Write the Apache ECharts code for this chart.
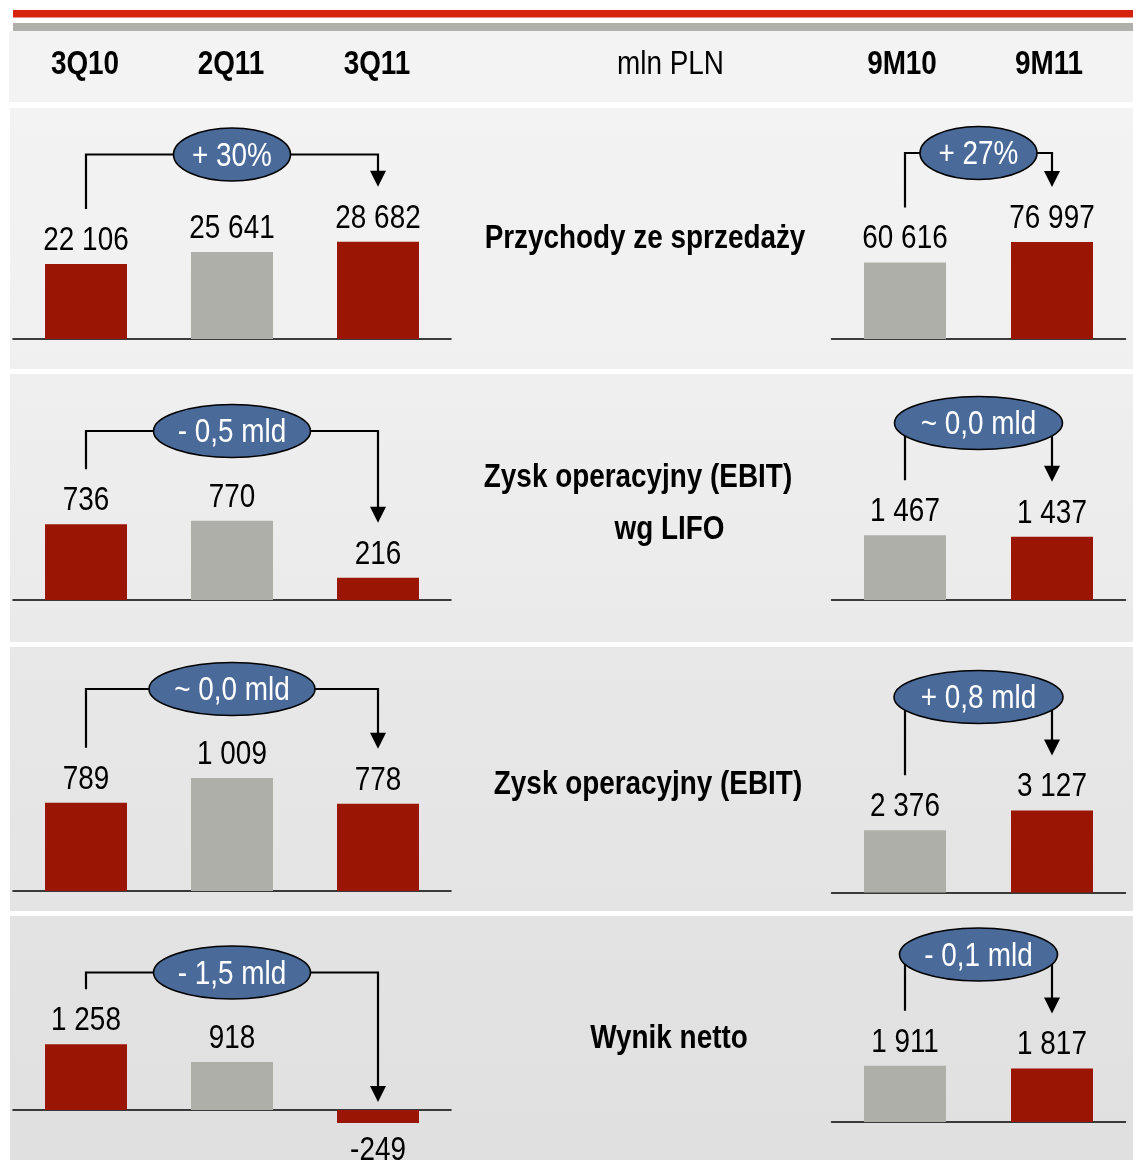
<!DOCTYPE html>
<html><head><meta charset="utf-8">
<script src="https://cdn.jsdelivr.net/npm/echarts@6/dist/echarts.min.js"></script>
<style>html,body{margin:0;padding:0;background:#fff}#c{width:1133px;height:1160px}</style>
</head><body><div id="c"></div>
<script>
// ---------- data ----------
const quarterCats = ['3Q10', '2Q11', '3Q11'];
const ytdCats = ['9M10', '9M11'];
const unitLabel = 'mln PLN';
const metricNames = [['Przychody ze sprzedaży'], ['Zysk operacyjny (EBIT)', 'wg LIFO'], ['Zysk operacyjny (EBIT)'], ['Wynik netto']];
const revenueQ = [22106, 25641, 28682];
const revenue9M = [60616, 76997];
const ebitLifoQ = [736, 770, 216];
const ebitLifo9M = [1467, 1437];
const ebitQ = [789, 1009, 778];
const ebit9M = [2376, 3127];
const netQ = [1258, 918, -249];
const net9M = [1911, 1817];
const changeQ = ['+ 30%', '- 0,5 mld', '~ 0,0 mld', '- 1,5 mld'];
const change9M = ['+ 27%', '~ 0,0 mld', '+ 0,8 mld', '- 0,1 mld'];

// ---------- style / layout ----------
const FONT = "'Liberation Sans', Arial, sans-serif";
const NARROW = 0.82; // horizontal squeeze → Arial Narrow look
const TY = 2;        // text vertical nudge
const RED = '#9b1503', GREY = '#afafaa', BLUE = '#4a6a9a';
const colorsQ = [RED, GREY, RED];
const colors9M = [GREY, RED];
const rowsQ = [revenueQ, ebitLifoQ, ebitQ, netQ];
const rows9M = [revenue9M, ebitLifo9M, ebit9M, net9M];
const baseQ = [339, 600, 891, 1110];
const base9M = [339, 600, 892.5, 1122];
const pxPerUnitQ = [0.00339, 0.1028, 0.112, 0.0522];
const pxPerUnit9M = [0.00126, 0.0441, 0.0262, 0.0295];
const ellYQ = [154.5, 431, 689, 972.5];
const ellY9M = [153, 423, 697, 954.5];
const ellRxQ = [58.5, 78.5, 83, 78.5];
const ellRx9M = [58.5, 84, 84.5, 79];
const panels = [[108, 369, '#f3f3f3', '#f0f0f0'], [374, 642, '#efefef', '#eaeaea'], [647, 911, '#e8e8e8', '#e4e4e4'], [916, 1160, '#e3e3e3', '#e0e0e0']];
const centerText = [[[645, 237]], [[638, 476], [669.5, 528]], [[648, 783]], [[669, 1037]]];
const UP = 150, DOWN = 30;

function fmt(v) {
  const s = String(Math.abs(v)).replace(/\B(?=(\d{3})+(?!\d))/g, ' ');
  return (v < 0 ? '-' : '') + s;
}

const grids = [], xAxes = [], yAxes = [], series = [];
function addChart(cats, vals, colors, base, k, left, width) {
  const gi = grids.length;
  grids.push({ left: left, width: width, top: base - UP, height: UP + DOWN });
  xAxes.push({ type: 'category', gridIndex: gi, data: cats,
    axisLine: { show: true, onZero: true, lineStyle: { color: '#000', width: 1.5 } },
    axisTick: { show: false }, axisLabel: { show: false }, splitLine: { show: false } });
  yAxes.push({ type: 'value', gridIndex: gi, min: -DOWN / k, max: UP / k, show: false, splitLine: { show: false } });
  series.push({ type: 'bar', xAxisIndex: gi, yAxisIndex: gi, barWidth: 82, animation: false,
    data: vals.map((v, i) => ({ value: v, itemStyle: { color: colors[i] } })),
    label: { show: false } });
  return gi;
}
for (let r = 0; r < 4; r++) {
  addChart(quarterCats, rowsQ[r], colorsQ, baseQ[r], pxPerUnitQ[r], 13, 438);
  addChart(ytdCats, rows9M[r], colors9M, base9M[r], pxPerUnit9M[r], 831.5, 294);
}

const chart = echarts.init(document.getElementById('c'), null, { renderer: 'canvas' });
chart.setOption({ animation: false, backgroundColor: '#fff', grid: grids, xAxis: xAxes, yAxis: yAxes, series: series });

// ---------- decorations ----------
const g = [];
g.push({ type: 'rect', z: -10, shape: { x: 13, y: 10, width: 1120, height: 7.5 }, style: { fill: '#d7230d' } });
g.push({ type: 'rect', z: -10, shape: { x: 13, y: 23, width: 1120, height: 8 }, style: { fill: '#b0b0ab' } });
g.push({ type: 'rect', z: -10, shape: { x: 9, y: 31, width: 1124, height: 71 }, style: { fill: '#f3f3f3' } });
panels.forEach(p => g.push({ type: 'rect', z: -10, shape: { x: 10, y: p[0], width: 1123, height: p[1] - p[0] },
  style: { fill: new echarts.graphic.LinearGradient(0, 0, 0, 1, [{ offset: 0, color: p[2] }, { offset: 1, color: p[3] }]) } }));

function txt(text, x, y, opts) {
  opts = opts || {};
  g.push({ type: 'text', z: opts.z || 50, x: x, y: y + TY, scaleX: NARROW, scaleY: 1,
    style: { text: text, align: 'center', verticalAlign: 'middle', fontSize: opts.size || 34,
      fontWeight: opts.bold ? 'bold' : 'normal', fontFamily: FONT, fill: opts.color || '#000' } });
}

// header labels
quarterCats.forEach((c, i) => txt(c, chart.convertToPixel({ xAxisIndex: 0 }, i) - 1, 63, { bold: true }));
ytdCats.forEach((c, i) => txt(c, chart.convertToPixel({ xAxisIndex: 1 }, i) - 3, 63, { bold: true }));
txt(unitLabel, 670.5, 63);

// center labels
metricNames.forEach((lines, r) => lines.forEach((t, j) => {
  const pos = centerText[r][j];
  txt(t, pos[0], pos[1], { bold: true });
}));

// value labels
function valueLabels(gi, vals) {
  vals.forEach((v, i) => {
    const x = chart.convertToPixel({ xAxisIndex: gi }, i);
    const y = chart.convertToPixel({ yAxisIndex: gi }, v);
    txt(fmt(v), x, v < 0 ? y + 25.5 : y - 25.5);
  });
}

// change annotations
function annot(gi, vals, text, ey, rx) {
  const n = vals.length;
  const xs = chart.convertToPixel({ xAxisIndex: gi }, 0);
  const xe = chart.convertToPixel({ xAxisIndex: gi }, n - 1);
  const y0 = chart.convertToPixel({ yAxisIndex: gi }, 0);
  const ys = chart.convertToPixel({ yAxisIndex: gi }, Math.max(0, vals[0])) - 55;
  const last = vals[n - 1];
  const tip = last > 0 ? chart.convertToPixel({ yAxisIndex: gi }, last) - 55 : y0 - 8;
  const cx = (xs + xe) / 2;
  g.push({ type: 'polyline', z: 60, shape: { points: [[xs, ys], [xs, ey], [xe, ey], [xe, tip - 12]] },
    style: { stroke: '#000', lineWidth: 2.2, fill: null } });
  g.push({ type: 'polygon', z: 60, shape: { points: [[xe - 8, tip - 16], [xe + 8, tip - 16], [xe, tip]] },
    style: { fill: '#000' } });
  g.push({ type: 'ellipse', z: 70, shape: { cx: cx, cy: ey, rx: rx, ry: 26.5 },
    style: { fill: BLUE, stroke: '#000', lineWidth: 1.6 } });
  txt(text, cx, ey, { color: '#fff', size: 34, z: 80 });
}
for (let r = 0; r < 4; r++) {
  valueLabels(2 * r, rowsQ[r]);
  valueLabels(2 * r + 1, rows9M[r]);
  annot(2 * r, rowsQ[r], changeQ[r], ellYQ[r], ellRxQ[r]);
  annot(2 * r + 1, rows9M[r], change9M[r], ellY9M[r], ellRx9M[r]);
}
chart.setOption({ graphic: { elements: g } });
</script></body></html>
